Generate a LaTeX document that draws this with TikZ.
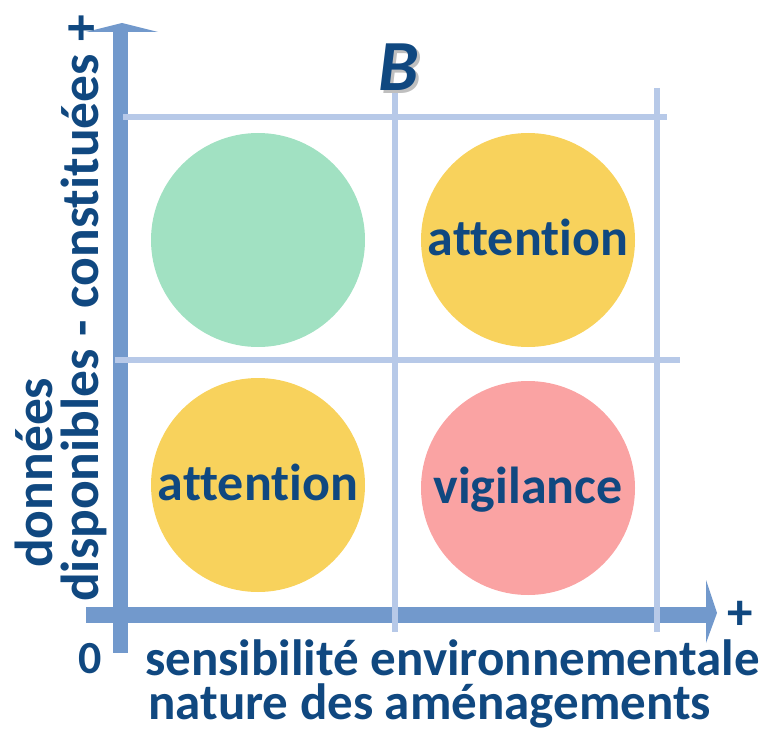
\documentclass[tikz,border=0pt]{standalone}
\usepackage{fontspec}
\setmainfont{Carlito}[Ligatures={NoCommon,NoContextual}]
\definecolor{textblue}{RGB}{16,72,128}
\definecolor{axisblue}{RGB}{114,153,204}
\definecolor{gridblue}{RGB}{183,201,232}
\definecolor{cgreen}{RGB}{161,225,194}
\definecolor{corange}{RGB}{248,210,92}
\definecolor{cpink}{RGB}{250,163,163}
\begin{document}
\begin{tikzpicture}[x=1pt,y=-1pt,
  bigtxt/.style={text=textblue,font=\fontsize{52}{52}\selectfont\bfseries,inner sep=0pt},
  axtxt/.style={text=textblue,font=\fontsize{51}{51}\selectfont\bfseries,inner sep=0pt},
  vtxt/.style={text=textblue,font=\fontsize{53.5}{53.5}\selectfont\bfseries,inner sep=0pt},
  disc/.style={circle,draw=none,minimum size=214pt,inner sep=0pt},
  gridline/.style={draw=gridblue,line width=6pt},
  axisfill/.style={fill=axisblue,draw=none}]
\useasboundingbox (0,0) rectangle (760,733);
% axes
\fill[axisfill] (113,653) rectangle (128,32);
\fill[axisfill] (86,32) -- (158,32) -- (122,23) -- cycle;
\fill[axisfill] (86,607) rectangle (706,623);
\fill[axisfill] (706,580) -- (706,643) -- (717,613) -- cycle;
% grid
\draw[gridline] (123,117) -- (667,117);
\draw[gridline] (115,360) -- (680,360);
\draw[gridline] (395,85) -- (395,632);
\draw[gridline] (657,88) -- (657,632);
% discs
\node[disc,fill=cgreen]  (tl) at (258,240) {};
\node[disc,fill=corange] (tr) at (528,240) {};
\node[disc,fill=corange] (bl) at (258,485) {};
\node[disc,fill=cpink]   (br) at (528,488) {};
\node[bigtxt,anchor=base] (trl) at ([yshift=-15pt]tr.center) {attention};
\node[bigtxt,anchor=base] (bll) at ([yshift=-15pt]bl.center) {attention};
\node[bigtxt,anchor=base] (brl) at ([yshift=-15pt]br.center) {vigilance};
% B with soft shadow
\node[text=black!25,font=\fontsize{72}{72}\selectfont\bfseries\itshape,inner sep=0pt] (bshadow) at (402,70) {B};
\node[text=textblue,font=\fontsize{72}{72}\selectfont\bfseries\itshape,inner sep=0pt] (blabel) at (399,67) {B};
% axis labels
\node[axtxt,anchor=base west] (x1) at (145,675) {sensibilité environnementale};
\node[axtxt,anchor=base west] (x2) at (148,719) {nature des aménagements};
\node[vtxt,anchor=base west,rotate=90] (y1) at (52,568) {données};
\node[vtxt,anchor=base west,rotate=90] (y2) at (98,602) {disponibles - constituées +};
\node[axtxt] (plusx) at (740,615) {+};
\node[text=textblue,font=\fontsize{46}{46}\selectfont\bfseries,inner sep=0pt] (zero) at (90,659) {0};
\end{tikzpicture}
\end{document}
